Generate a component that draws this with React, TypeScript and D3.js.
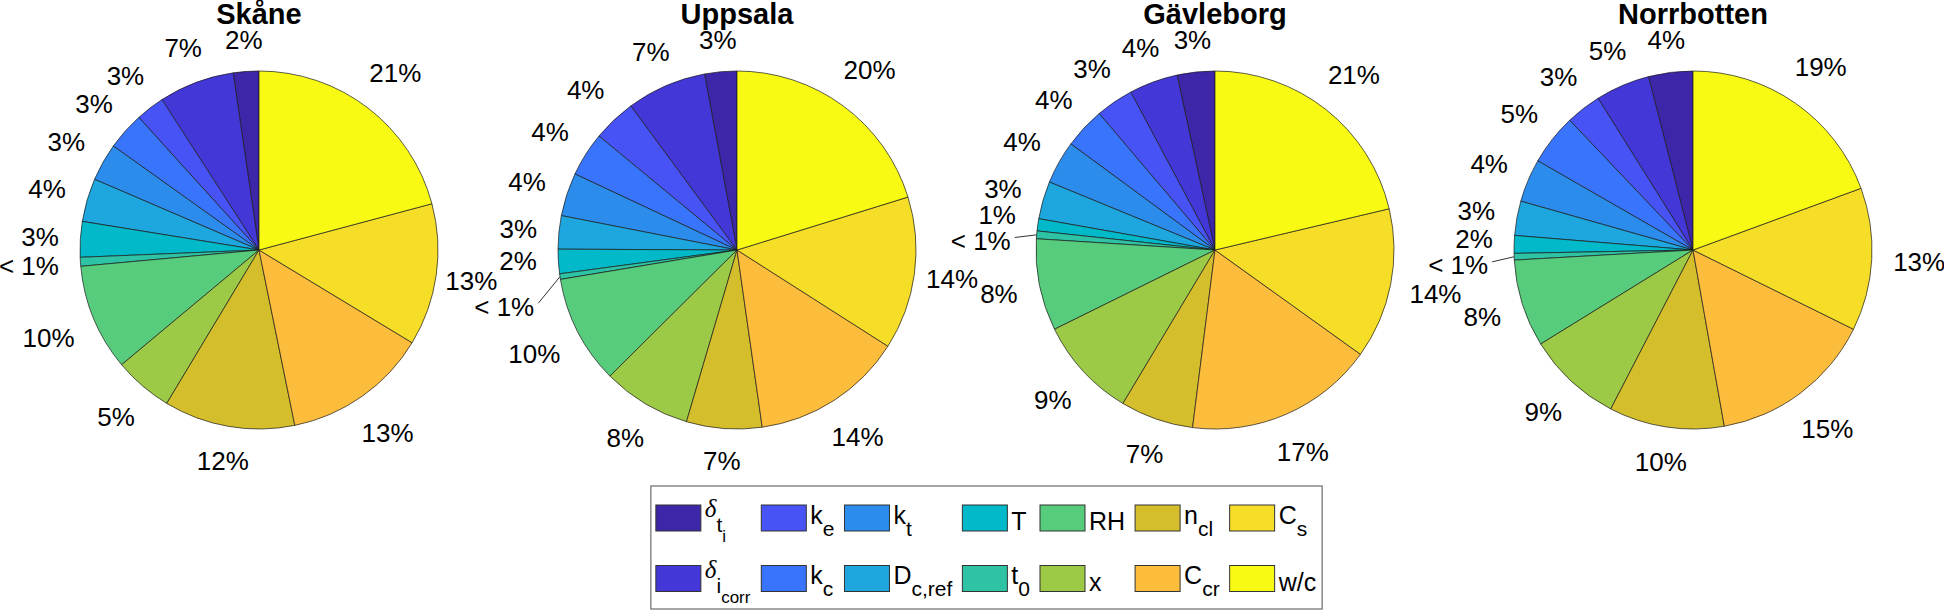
import React from 'react';
import * as d3 from 'd3';

// ---------- DATA ----------
const regions = ['Skåne', 'Uppsala', 'Gävleborg', 'Norrbotten'];
const params = ['δ_ti', 'δ_icorr', 'k_e', 'k_c', 'k_t', 'D_c,ref', 'T', 't_0', 'RH', 'x', 'n_cl', 'C_cr', 'C_s', 'w/c'];
// shares (%) in legend order
const skaneValues = [2.3, 6.8, 2.6, 3.4, 3.4, 3.9, 3.2, 0.8, 9.6, 5.3, 11.8, 13.1, 12.8, 20.8];
const uppsalaValues = [2.9, 7.2, 3.9, 4.0, 3.9, 3.0, 2.2, 0.5, 9.8, 8.0, 6.8, 13.7, 13.8, 20.2];
const gavleborgValues = [3.4, 4.4, 3.4, 3.7, 3.9, 3.4, 1.1, 0.7, 8.3, 9.1, 6.6, 17.1, 13.6, 21.3];
const norrbottenValues = [4.0, 4.9, 3.2, 4.6, 3.9, 3.1, 1.6, 0.6, 7.9, 8.6, 10.4, 14.9, 12.9, 19.4];
const regionValues = [skaneValues, uppsalaValues, gavleborgValues, norrbottenValues];
const paramColors = ['#3e26a8', '#4437d8', '#4753f5', '#3874fc', '#2b8cec', '#1ea6de', '#01b9c9', '#2dc3a4',
  '#56cc7c', '#9cca46', '#d5be2b', '#fdbd3c', '#f6dd28', '#f8fa14'];
// legend label parts (main, subscript, sub-subscript)
const legendMain = ['δ', 'δ', 'k', 'k', 'k', 'D', 'T', 't', 'RH', 'x', 'n', 'C', 'C', 'w/c'];
const legendSub = ['t', 'i', 'e', 'c', 't', 'c,ref', '', '0', '', '', 'cl', 'cr', 's', ''];
const legendSubSub = ['i', 'corr', '', '', '', '', '', '', '', '', '', '', '', ''];

// ---------- LAYOUT ----------
const W = 1944, H = 612;
const CY = 250, R = 179;
const LABEL_FS = 26, TITLE_FS = 29;
const FONT = '"Liberation Sans", Arial, Helvetica, sans-serif';
const GAP_Y = 26;

const CW: Record<string, number> = {
  '0': .556, '1': .556, '2': .556, '3': .556, '4': .556, '5': .556, '6': .556, '7': .556, '8': .556, '9': .556,
  '%': .889, '<': .584, ' ': .278, k: .5, e: .556, t: .278, i: .222, c: .5, o: .556, r: .333, f: .278, ',': .278,
  D: .722, T: .611, R: .722, H: .722, n: .556, l: .222, s: .5, C: .722, w: .722, '/': .278, x: .5, 'δ': .5,
};
const tw = (s: string, fs: number) => Array.from(s).reduce((a, ch) => a + (CW[ch] ?? 0.556) * fs, 0);

const xScale = d3.scalePoint<string>().domain(regions).range([259, 1693]);
const pieGen = d3.pie<number>().sort(null).value((d) => d).startAngle(0).endAngle(-2 * Math.PI);
const arcGen = d3.arc<d3.PieArcDatum<number>>().innerRadius(0).outerRadius(R);

type Lab = { text: string; w: number; x: number; y: number; leader: null | { x1: number; y1: number } };

function overlaps(ax: number, ay: number, aw: number, bx: number, by: number, bw: number) {
  return Math.abs(ax - bx) < (aw + bw) / 2 + 2 && Math.abs(ay - by) < GAP_Y;
}

function layoutLabels(arcs: d3.PieArcDatum<number>[], values: number[]): Lab[] {
  const labs: Lab[] = arcs.map((a, i) => {
    const v = values[i];
    const text = v < 1 ? '< 1%' : `${Math.round(v)}%`;
    const w = tw(text, LABEL_FS);
    const m = (a.startAngle + a.endAngle) / 2;
    const s = Math.sin(m), c = -Math.cos(m);
    if (v < 0.75) {
      const ex = (R + 22) * s, ey = (R + 22) * c + 3;
      return { text, w, x: ex - 4 - w / 2, y: ey, leader: { x1: R * s, y1: R * c } };
    }
    const d = 200 + (w / 2) * Math.abs(s) + 10 * Math.abs(c);
    return { text, w, x: d * s, y: d * c, leader: null };
  });
  for (let it = 0; it < 40; it++) {
    for (let i = 0; i < labs.length; i++) {
      for (let j = i + 1; j < labs.length; j++) {
        const a = labs[i], b = labs[j];
        if (overlaps(a.x, a.y, a.w, b.x, b.y, b.w)) {
          const over = GAP_Y - Math.abs(a.y - b.y);
          const up = a.y <= b.y ? a : b;
          const dn = up === a ? b : a;
          up.y -= over / 2 + 0.01;
          dn.y += over / 2 + 0.01;
        }
      }
    }
  }
  return labs;
}

// per-pie layouts, then resolve collisions between neighbouring pies
const centers = regions.map((r) => xScale(r) as number);
const allArcs = regionValues.map((v) => pieGen(v));
const allLabs = regionValues.map((v, i) => layoutLabels(allArcs[i], v));
for (let p = 0; p < regions.length - 1; p++) {
  const left = allLabs[p], right = allLabs[p + 1];
  const off = centers[p + 1] - centers[p];
  // pull right-side labels of the left pie inwards
  left.forEach((A) => {
    if (A.x <= 0 || A.leader) return;
    let limit = Infinity;
    right.forEach((B) => {
      if (B.leader) return;
      if (Math.abs(A.y - B.y) < GAP_Y) limit = Math.min(limit, off + B.x - (A.w + B.w) / 2 - 2);
    });
    if (A.x > limit) {
      const dA = Math.hypot(A.x, A.y);
      const s = A.x / dA, c = Math.abs(A.y) / dA;
      const dmin = R + 2 + (A.w / 2) * s + 9.5 * c;
      const f = Math.max(limit / A.x, dmin / dA);
      A.x *= f; A.y *= f;
    }
  });
  // push leader labels of the right pie vertically away
  right.forEach((B) => {
    if (!B.leader) return;
    left.forEach((A) => {
      if (A.x <= 0) return;
      if (overlaps(A.x, A.y, A.w, off + B.x, B.y, B.w)) {
        B.y = B.y >= A.y ? A.y + GAP_Y : A.y - GAP_Y;
      }
    });
  });
}

// legend geometry
const LEG_FS = 25, SUB_FS = 21, SUBSUB_FS = 17;
const SW_W = 45, SW_H = 26;
const legendTextW = params.map((_, i) =>
  tw(legendMain[i], LEG_FS) + tw(legendSub[i], SUB_FS) + tw(legendSubSub[i], SUBSUB_FS));
const nCols = 7;
const colW = d3.range(nCols).map((k) => SW_W + 4 + Math.max(legendTextW[2 * k], legendTextW[2 * k + 1]) + 10);
const legendTotal = 5 + d3.sum(colW) - 10 + 6;
const LEG_CX = 986.5;
const legLeft = LEG_CX - legendTotal / 2;
const colX = colW.map((_, k) => legLeft + 5 + d3.sum(colW.slice(0, k)));
const rowC = [518, 578.5];
const LEG_TOP = 486, LEG_BOTTOM = 609;

function LegendText({ i, x, yc }: { i: number; x: number; yc: number }) {
  const depth = legendSubSub[i] ? 2 : legendSub[i] ? 1 : 0;
  const base = yc + 12 - 6.5 * depth;
  const isGreek = legendMain[i] === 'δ';
  return (
    <text x={x} y={base} fontSize={LEG_FS} fontFamily={FONT} fill="#000">
      <tspan fontStyle={isGreek ? 'italic' : 'normal'} fontFamily={isGreek ? '"Liberation Serif", "DejaVu Serif", serif' : FONT}>
        {legendMain[i]}
      </tspan>
      {legendSub[i] && <tspan fontSize={SUB_FS} dy={isGreek ? 15 : 12}>{legendSub[i]}</tspan>}
      {legendSubSub[i] && <tspan fontSize={SUBSUB_FS} dy={10}>{legendSubSub[i]}</tspan>}
    </text>
  );
}

export default function App() {
  return (
    <svg width={W} height={H} viewBox={`0 0 ${W} ${H}`}
      style={{ position: 'absolute', left: 0, top: 0, display: 'block', background: '#fff' }}>
      <rect x={0} y={0} width={W} height={H} fill="#fff" />
      {regions.map((reg, ri) => {
        const cx = centers[ri];
        const arcs = allArcs[ri];
        const labs = allLabs[ri];
        return (
          <g key={reg}>
            <text x={cx} y={24} textAnchor="middle" fontSize={TITLE_FS} fontWeight="bold" fontFamily={FONT}>{reg}</text>
            <g transform={`translate(${cx},${CY})`}>
              {arcs.map((a, i) => (
                <path key={i} d={arcGen(a) || ''} fill={paramColors[i]} stroke="#1a1a1a" strokeWidth={0.7} strokeLinejoin="round" />
              ))}
              {labs.map((l, i) => (
                <g key={'l' + i}>
                  {l.leader && (
                    <line x1={l.leader.x1} y1={l.leader.y1} x2={l.x < 0 ? l.x + l.w / 2 + 4 : l.x - l.w / 2 - 4} y2={l.y - 3}
                      stroke="#333" strokeWidth={1} />
                  )}
                  <text x={l.x} y={l.y + 0.358 * LABEL_FS} textAnchor="middle" fontSize={LABEL_FS} fontFamily={FONT} fill="#000">
                    {l.text}
                  </text>
                </g>
              ))}
            </g>
          </g>
        );
      })}
      <g>
        <rect x={legLeft} y={LEG_TOP} width={legendTotal} height={LEG_BOTTOM - LEG_TOP} fill="#fff" stroke="#6b6b6b" strokeWidth={1.2} />
        {params.map((p, i) => {
          const k = Math.floor(i / 2), row = i % 2;
          const x = colX[k];
          const yc = rowC[row];
          return (
            <g key={p}>
              <rect x={x} y={yc - SW_H / 2} width={SW_W} height={SW_H} fill={paramColors[i]} stroke="#333" strokeWidth={1} />
              <LegendText i={i} x={x + SW_W + 4} yc={yc} />
            </g>
          );
        })}
      </g>
    </svg>
  );
}
